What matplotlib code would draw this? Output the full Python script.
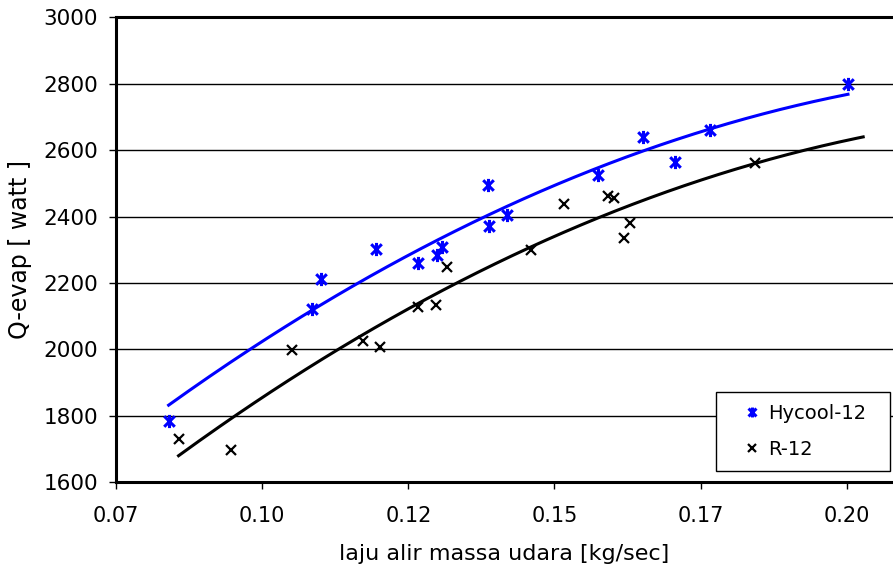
import numpy as np
import matplotlib
matplotlib.use("Agg")
import matplotlib.pyplot as plt
from matplotlib.path import Path

# data
hycool_x = [0.0840, 0.1086, 0.1100, 0.1195, 0.1267, 0.1299, 0.1308, 0.1387,
            0.1388, 0.1419, 0.1575, 0.1652, 0.1706, 0.1766, 0.2002]
hycool_y = [1784, 2122, 2212, 2303, 2261, 2283, 2308, 2494,
            2370, 2405, 2524, 2639, 2563, 2660, 2798]

r12_x = [0.0857, 0.0946, 0.1051, 0.1172, 0.1202, 0.1267, 0.1297, 0.1316,
         0.1459, 0.1517, 0.1592, 0.1601, 0.1619, 0.1630, 0.1843]
r12_y = [1729, 1697, 1997, 2025, 2006, 2126, 2134, 2247,
         2298, 2439, 2461, 2456, 2335, 2382, 2562]

# trendline forward forecast (R-12 line runs past its last point)
r12_forward = 0.0185

xticks = [0.075, 0.100, 0.125, 0.150, 0.175, 0.200]
xtick_labels = ["0.07", "0.10", "0.12", "0.15", "0.17", "0.20"]
yticks = [1600, 1800, 2000, 2200, 2400, 2600, 2800, 3000]

plt.rcParams['font.family'] = ['DejaVu Sans']

# excel style star: x with a vertical bar
star = Path([(-1, -1), (1, 1), (-1, 1), (1, -1), (0, -1.25), (0, 1.25)],
            [Path.MOVETO, Path.LINETO, Path.MOVETO, Path.LINETO,
             Path.MOVETO, Path.LINETO])


def trend(x, y, extra=0.0):
    coef = np.polyfit(x, y, 2)
    xs = np.linspace(min(x), max(x) + extra, 200)
    return xs, np.polyval(coef, xs)


fig = plt.figure(figsize=(8.93, 5.81), dpi=100)
ax = fig.add_axes([0.1299, 0.1704, 0.8701, 0.7996])

ax.plot(hycool_x, hycool_y, linestyle='none', marker=star, markersize=9.5,
        markeredgewidth=2.2, color='#0000ff', label='Hycool-12', zorder=4)
ax.plot(r12_x, r12_y, linestyle='none', marker='x', markersize=7.5,
        markeredgewidth=1.6, color='black', label='R-12', zorder=4)

tx, ty = trend(hycool_x, hycool_y)
ax.plot(tx, ty, color='#0000ff', lw=2.2, zorder=3)
tx, ty = trend(r12_x, r12_y, r12_forward)
ax.plot(tx, ty, color='black', lw=2.2, zorder=3)

ax.set_xlim(0.075, 0.2079)
ax.set_ylim(1600, 3000)
ax.set_xticks(xticks)
ax.set_xticklabels(xtick_labels)
ax.set_yticks(yticks)
ax.yaxis.grid(True, color='black', lw=1)
ax.set_axisbelow(True)

for side in ['left', 'top', 'bottom']:
    ax.spines[side].set_linewidth(2.2)
ax.spines['right'].set_visible(False)
ax.tick_params(direction='out', length=5, width=1, labelsize=15)
ax.tick_params(axis='y', labelsize=15.5, pad=8)
ax.tick_params(axis='x', pad=12)

ax.set_xlabel('laju alir massa udara [kg/sec]', fontsize=16, labelpad=13)
ax.set_ylabel('Q-evap [ watt ]', fontsize=17, labelpad=8)

leg = ax.legend(loc='upper left',
                bbox_to_anchor=(716 / 893, 1 - 472 / 581, 174 / 893, 80 / 581),
                bbox_transform=fig.transFigure, mode='expand', fontsize=14,
                frameon=True, fancybox=False, edgecolor='black', framealpha=1,
                handlelength=2.5, handletextpad=-0.43, borderpad=0.6,
                labelspacing=0.9, borderaxespad=0)
leg.get_frame().set_linewidth(1)
for h in leg.legend_handles:
    h.set_markersize(h.get_markersize() * 0.75)

fig.savefig('out.png', dpi=100)
